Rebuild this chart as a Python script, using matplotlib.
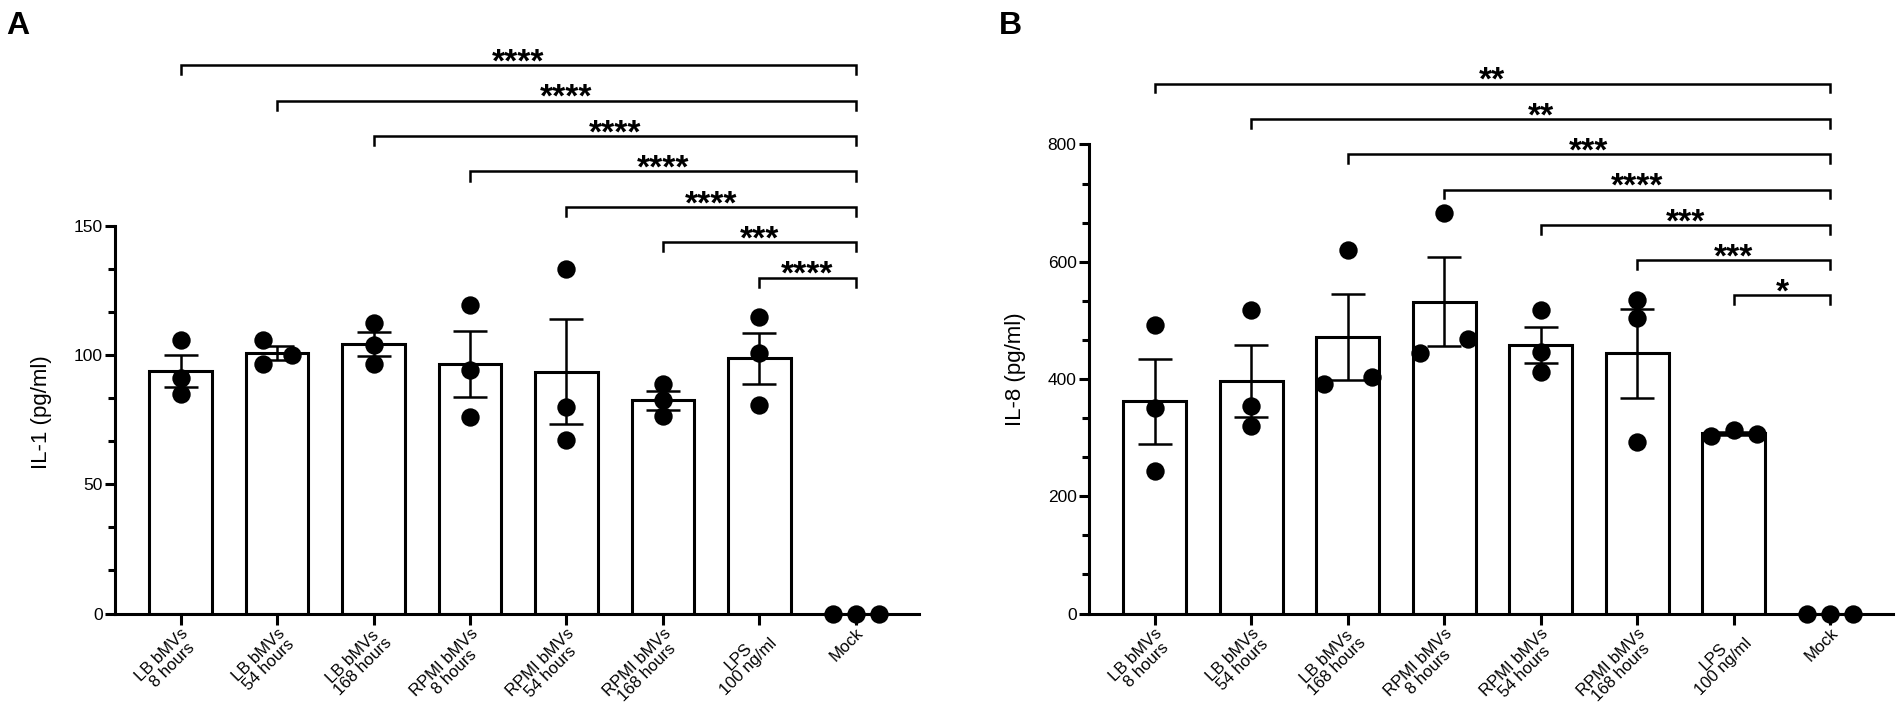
import numpy as np
import matplotlib
matplotlib.use("Agg")
import matplotlib.pyplot as plt
from matplotlib.ticker import MultipleLocator

plt.rcParams['font.family'] = ['Liberation Sans', 'DejaVu Sans']

# ---------------- data ----------------
categories = ['LB bMVs\n8 hours', 'LB bMVs\n54 hours', 'LB bMVs\n168 hours',
              'RPMI bMVs\n8 hours', 'RPMI bMVs\n54 hours', 'RPMI bMVs\n168 hours',
              'LPS\n100 ng/ml', 'Mock']

il1_points = [[105.7, 91.1, 84.9],
              [105.7, 100.0, 96.6],
              [112.4, 104.1, 96.6],
              [119.5, 94.2, 75.9],
              [133.5, 79.8, 67.2],
              [88.9, 82.5, 76.3],
              [114.8, 101.0, 80.8],
              [0.0, 0.0, 0.0]]

il8_points = [[492.6, 350.6, 242.6],
              [517.0, 353.4, 319.3],
              [619.3, 391.5, 404.0],
              [683.0, 444.3, 468.8],
              [517.0, 445.5, 411.4],
              [535.0, 504.0, 293.0],
              [303.0, 313.0, 306.0],
              [0.0, 0.0, 0.0]]

il1_stars = ['****', '****', '****', '****', '****', '***', '****']
il8_stars = ['**', '**', '***', '****', '***', '***', '*']

# horizontal point placement (style)
il1_jitter = [[0, 0, 0], [-0.15, 0.15, -0.15], [0, 0, 0], [0, 0, 0],
              [0, 0, 0], [0, 0, 0], [0, 0, 0], [-0.24, 0, 0.24]]
il8_jitter = [[0, 0, 0], [0, 0, 0], [0, -0.25, 0.25], [0, -0.25, 0.25],
              [0, 0, 0], [0, 0, 0], [-0.24, 0, 0.24], [-0.24, 0, 0.24]]

W, H = 1901, 711
fig = plt.figure(figsize=(W / 100, H / 100), dpi=100)

LW = 2.2


def panel(ax, pts, jit, stars, ymax, major, ylabel, br_top, br_step, br_tick):
    x = np.arange(len(categories))
    pts = np.array(pts)
    means = pts.mean(axis=1)
    sems = pts.std(axis=1, ddof=1) / np.sqrt(pts.shape[1])
    ax.bar(x, means, width=0.65, color='white', edgecolor='black',
           linewidth=LW, zorder=2)
    ax.errorbar(x, means, yerr=sems, fmt='none', ecolor='black',
                elinewidth=1.8, capsize=12, capthick=1.8, zorder=3)
    for i in range(len(categories)):
        ax.scatter(x[i] + np.array(jit[i]), pts[i], s=175, color='black',
                   zorder=4, clip_on=False, linewidths=0)
    ax.set_xlim(-0.68, 7.65)
    ax.set_ylim(0, ymax)
    ax.yaxis.set_major_locator(MultipleLocator(major))
    ax.yaxis.set_minor_locator(MultipleLocator(major / 3))
    ax.set_xticks(x)
    ax.set_xticklabels(categories, rotation=45, ha='right', va='top',
                       rotation_mode='anchor', multialignment='center',
                       fontsize=12, linespacing=0.95)
    ax.tick_params(axis='y', which='major', length=7, width=LW, labelsize=12.5,
                   pad=2)
    ax.tick_params(axis='y', which='minor', length=5, width=LW)
    ax.tick_params(axis='x', which='major', length=8, width=LW, pad=0.5)
    for s in ['top', 'right']:
        ax.spines[s].set_visible(False)
    for s in ['left', 'bottom']:
        ax.spines[s].set_linewidth(LW)
    ax.set_ylabel(ylabel, fontsize=16)
    ax.yaxis.set_label_coords(-0.078, 0.52)
    # significance brackets
    xe = len(categories) - 1
    for i, st in enumerate(stars):
        y = br_top - i * br_step
        ax.plot([i, i, xe, xe], [y - br_tick, y, y, y - br_tick],
                color='black', lw=1.8, clip_on=False, solid_joinstyle='miter',
                zorder=5)
        ax.annotate(st, xy=((i + xe) / 2, y), xytext=(0, -4.5),
                    textcoords='offset points', ha='center', va='baseline',
                    fontsize=24, fontweight='bold', annotation_clip=False)


axA = fig.add_axes([115 / W, 97.5 / H, 803.5 / W, 387.5 / H])
axB = fig.add_axes([1089 / W, 97.5 / H, 804 / W, 469 / H])

panel(axA, il1_points, il1_jitter, il1_stars, 150, 50, 'IL-1 (pg/ml)',
      212.2, 13.7, 3.5)
panel(axB, il8_points, il8_jitter, il8_stars, 800, 200, 'IL-8 (pg/ml)',
      903.7, 60.2, 15)

fig.text(6 / W, 1 - 34 / H, 'A', fontsize=23, fontweight='bold',
         ha='left', va='baseline')
fig.text(999 / W, 1 - 34 / H, 'B', fontsize=23, fontweight='bold',
         ha='left', va='baseline')

fig.savefig('out.png', dpi=100)
